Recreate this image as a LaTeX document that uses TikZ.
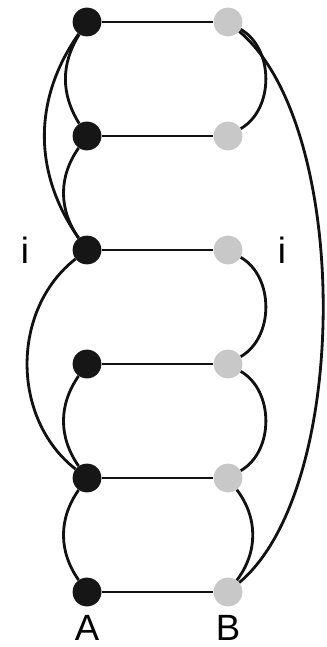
\documentclass[tikz,border=0pt]{standalone}
\usepackage{fontspec}
\setsansfont{Liberation Sans}
\usetikzlibrary{positioning}
\definecolor{dotdark}{HTML}{161616}
\definecolor{dotlight}{HTML}{C8C8C8}
\definecolor{wire}{HTML}{111111}

\begin{document}
\begin{tikzpicture}[
  font=\sffamily\fontsize{26}{30}\selectfont,
  node distance=2.85cm and 3.525cm,
  on grid,
  dotA/.style ={circle, fill=dotdark, inner sep=0pt, minimum size=0.72cm},
  dotB/.style ={circle, fill=dotlight, inner sep=0pt, minimum size=0.72cm},
  link/.style ={draw=wire, line width=2pt},
  lbl/.style  ={inner sep=0pt, text=black},
]
  \useasboundingbox (-2.175,0.55) rectangle (6.0,-15.625);

  % --- columna A ---
  \node[dotA]               (a1) {};
  \node[dotA, below=of a1]  (a2) {};
  \node[dotA, below=of a2]  (a3) {};
  \node[dotA, below=of a3]  (a4) {};
  \node[dotA, below=of a4]  (a5) {};
  \node[dotA, below=of a5]  (a6) {};

  % --- columna B ---
  \node[dotB, right=of a1]  (b1) {};
  \node[dotB, right=of a2]  (b2) {};
  \node[dotB, right=of a3]  (b3) {};
  \node[dotB, right=of a4]  (b4) {};
  \node[dotB, right=of a5]  (b5) {};
  \node[dotB, right=of a6]  (b6) {};

  % --- etiquetas ---
  \node[lbl, below=0.9cm of a6]  (la) {A};
  \node[lbl, below=0.9cm of b6]  (lb) {B};
  \node[lbl, left=1.55cm of a3]  (ia) {i};
  \node[lbl, right=1.35cm of b3] (ib) {i};

  % --- horizontales ---
  \draw[link] (a1) -- (b1);
  \draw[link] (a2) -- (b2);
  \draw[link] (a3) -- (b3);
  \draw[link] (a4) -- (b4);
  \draw[link] (a5) -- (b5);
  \draw[link] (a6) -- (b6);

  % --- arcos lado A ---
  \draw[link] (a1) to[bend right=32] (a2);
  \draw[link] (a1) to[bend right=35] (a3);
  \draw[link] (a2) to[bend right=35] (a3);
  \draw[link] (a3) to[bend right=52] (a5);
  \draw[link] (a4) to[bend right=35] (a5);
  \draw[link] (a5) to[bend right=35] (a6);

  % --- arcos lado B ---
  \draw[link] (b1) to[bend left=60] (b2);
  \draw[link] (b3) to[bend left=60] (b4);
  \draw[link] (b4) to[bend left=60] (b5);
  \draw[link] (b5) to[bend left=37] (b6);
  \draw[link] (b1) to[out=-40, in=40, looseness=0.68] (b6);
\end{tikzpicture}
\end{document}
